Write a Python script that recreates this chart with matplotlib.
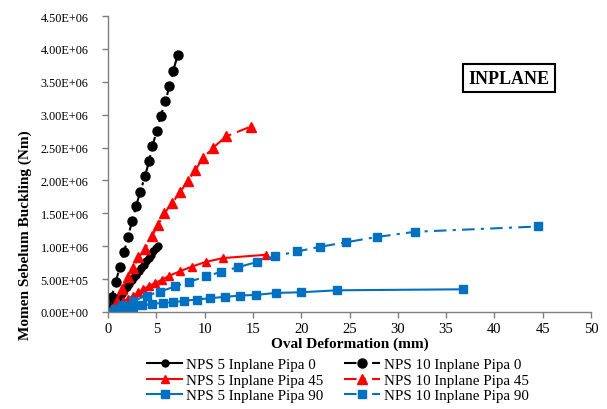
import matplotlib
matplotlib.use("Agg")
import matplotlib.pyplot as plt
from matplotlib.ticker import FuncFormatter, MultipleLocator

plt.rcParams['font.family'] = ['Liberation Serif', 'DejaVu Serif']

# Oval deformation (mm) and buckling moment (Nm) for each pipe case
nps5_p0_x = [0, 0.2, 0.45, 0.7, 0.95, 1.2, 1.45, 1.7, 1.95, 2.2, 2.45, 2.7,
             2.95, 3.2, 3.45, 3.7, 3.95, 4.2, 4.45, 4.7, 4.95, 5.15]
nps5_p0_y = [0, 0.03e6, 0.08e6, 0.13e6, 0.18e6, 0.23e6, 0.28e6, 0.33e6, 0.38e6,
             0.43e6, 0.48e6, 0.53e6, 0.57e6, 0.62e6, 0.67e6, 0.72e6, 0.77e6,
             0.82e6, 0.87e6, 0.92e6, 0.97e6, 1.01e6]

nps10_p0_x = [0, 0.03, 0.38, 0.8, 1.24, 1.66, 2.07, 2.49, 2.9, 3.35, 3.84, 4.25,
              4.6, 5.05, 5.46, 5.95, 6.36, 6.74, 7.22]
nps10_p0_y = [0, 0.02e6, 0.23e6, 0.46e6, 0.69e6, 0.91e6, 1.14e6, 1.38e6, 1.61e6,
              1.83e6, 2.07e6, 2.29e6, 2.53e6, 2.75e6, 2.98e6, 3.21e6, 3.43e6,
              3.67e6, 3.90e6]

nps5_p45_x = [0, 0.2, 0.62, 1.07, 1.59, 2.1, 2.63, 3.15, 3.67, 4.29, 4.88, 5.57,
              6.33, 7.47, 8.67, 10.1, 11.9, 16.35]
nps5_p45_y = [0, 0.02e6, 0.065e6, 0.11e6, 0.16e6, 0.20e6, 0.25e6, 0.30e6, 0.35e6,
              0.40e6, 0.44e6, 0.49e6, 0.55e6, 0.62e6, 0.69e6, 0.76e6, 0.82e6,
              0.87e6]

nps10_p45_x = [0, 0.38, 0.9, 1.42, 2.04, 2.63, 3.15, 3.84, 4.53, 5.15, 5.84,
               6.64, 7.47, 8.23, 9.05, 9.82, 10.82, 12.24, 14.8]
nps10_p45_y = [0, 0.05e6, 0.17e6, 0.35e6, 0.53e6, 0.67e6, 0.83e6, 0.96e6, 1.15e6,
               1.32e6, 1.50e6, 1.66e6, 1.82e6, 1.99e6, 2.16e6, 2.34e6, 2.49e6,
               2.67e6, 2.82e6]

nps5_p90_x = [0, 0.55, 1.07, 1.76, 2.62, 3.5, 4.53, 5.67, 6.78, 7.9, 9.2, 10.6,
              12.07, 13.7, 15.3, 17.4, 20.0, 23.7, 36.8]
nps5_p90_y = [0, 0.025e6, 0.045e6, 0.06e6, 0.08e6, 0.10e6, 0.12e6, 0.14e6,
              0.15e6, 0.17e6, 0.19e6, 0.21e6, 0.23e6, 0.25e6, 0.26e6, 0.29e6,
              0.30e6, 0.33e6, 0.345e6]

nps10_p90_x = [0, 0.73, 1.42, 2.63, 4.0, 5.39, 6.95, 8.43, 10.1, 11.7, 13.45,
               15.4, 17.3, 19.57, 21.9, 24.65, 27.8, 31.8, 44.5]
nps10_p90_y = [0, 0.05e6, 0.10e6, 0.17e6, 0.25e6, 0.31e6, 0.39e6, 0.46e6, 0.54e6,
               0.61e6, 0.68e6, 0.76e6, 0.85e6, 0.92e6, 0.99e6, 1.06e6, 1.14e6,
               1.22e6, 1.30e6]

BLACK = '#000000'
RED = '#FF0000'
BLUE = '#0070C0'
DASHDOT = (0, (6, 3, 1.5, 3))

fig = plt.figure(figsize=(6.07, 4.10), dpi=100)
ax = fig.add_axes([108 / 607, 97 / 410, 483 / 607, 296 / 410])

ax.plot(nps5_p0_x, nps5_p0_y, color=BLACK, lw=1.5, marker='o', ms=5,
        label='NPS 5 Inplane Pipa 0')
ax.plot(nps5_p45_x, nps5_p45_y, color=RED, lw=1.5, marker='^', ms=6,
        label='NPS 5 Inplane Pipa 45')
ax.plot(nps5_p90_x, nps5_p90_y, color=BLUE, lw=1.5, marker='s', ms=5.5,
        label='NPS 5 Inplane Pipa 90')
ax.plot(nps10_p0_x, nps10_p0_y, color=BLACK, lw=1.5, ls=DASHDOT, marker='o', ms=6.5,
        label='NPS 10 Inplane Pipa 0')
ax.plot(nps10_p45_x, nps10_p45_y, color=RED, lw=1.5, ls=DASHDOT, marker='^', ms=6.5,
        label='NPS 10 Inplane Pipa 45')
ax.plot(nps10_p90_x, nps10_p90_y, color=BLUE, lw=1.5, ls=DASHDOT, marker='s', ms=6,
        label='NPS 10 Inplane Pipa 90')

ax.set_xlim(0, 50)
ax.set_ylim(0, 4.5e6)
ax.xaxis.set_major_locator(MultipleLocator(5))
ax.yaxis.set_major_locator(MultipleLocator(0.5e6))
ax.yaxis.set_major_formatter(FuncFormatter(lambda v, p: f"{v:.2E}"))

for s in ('top', 'right'):
    ax.spines[s].set_visible(False)
for s in ('left', 'bottom'):
    ax.spines[s].set_color('#7f7f7f')
    ax.spines[s].set_linewidth(1.0)
ax.tick_params(axis='both', direction='out', length=4, width=1.0, color='#7f7f7f')
ax.tick_params(axis='x', labelsize=10.5, pad=3)
ax.tick_params(axis='y', labelsize=8.8, pad=10)

ax.set_xlabel('Oval Deformation (mm)', fontsize=11, fontweight='bold', labelpad=1)
ax.set_ylabel('Momen Sebelum Buckling (Nm)', fontsize=11, fontweight='bold')
ax.yaxis.set_label_coords(-0.157, 0.264)

ax.text(0.830, 0.79, 'INPLANE', transform=ax.transAxes, fontsize=13,
        fontweight='bold', ha='center', va='center',
        bbox=dict(boxstyle='square,pad=0.3', facecolor='white',
                  edgecolor='black', linewidth=1.5))

fig.legend(loc='upper left', bbox_to_anchor=(147 / 607, 1 - 359 / 410), ncol=2,
           frameon=False, fontsize=10.8, handlelength=2.35, handletextpad=0.26,
           columnspacing=1.4, labelspacing=0.12, borderpad=0, borderaxespad=0)

fig.savefig('out.png', dpi=100)
